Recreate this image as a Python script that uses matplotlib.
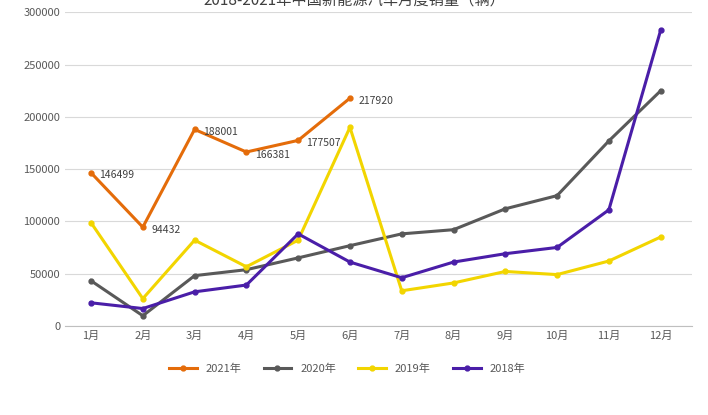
import matplotlib
matplotlib.use("Agg")
import matplotlib.pyplot as plt

plt.rcParams["font.family"] = ["Noto Sans CJK SC"]
months = [f"{i}月" for i in range(1, 13)]
s2021 = [146499, 94432, 188001, 166381, 177507, 217920]
s2020 = [43100, 9600, 48000, 53700, 65000, 76700, 88000, 92000, 112000, 124600, 177000, 225000]
s2019 = [98700, 26000, 82000, 56500, 82000, 190000, 33500, 41000, 52000, 49000, 62000, 85000]
s2018 = [22000, 16500, 32500, 39000, 88000, 61000, 46000, 61000, 69000, 75000, 111000, 283000]

fig = plt.figure(figsize=(7.08, 4.15), dpi=100)
ax = fig.add_axes([0.092, 0.215, 0.885, 0.755])
x = list(range(12))
series = [("2021年", s2021, "#E46C0A"), ("2020年", s2020, "#595959"),
          ("2019年", s2019, "#F2D500"), ("2018年", s2018, "#4A1EA8")]
for name, vals, c in series:
    ax.plot(x[:len(vals)], vals, color=c, lw=2.2, marker="o", ms=3.5, label=name)
for i, v in enumerate(s2021):
    ax.annotate(str(v), (i, v), xytext=(6, -4), textcoords="offset points", fontsize=7.5, color="#404040")
ax.set_ylim(0, 300000)
ax.set_xlim(-0.5, 11.6)
ax.set_yticks(range(0, 300001, 50000))
ax.set_xticks(x)
ax.set_xticklabels(months)
ax.tick_params(labelsize=8, colors="#595959", length=0)
ax.grid(axis="y", color="#D9D9D9", lw=0.8)
ax.set_axisbelow(True)
for s in ["top", "right", "left"]:
    ax.spines[s].set_visible(False)
ax.spines["bottom"].set_color("#BFBFBF")
ax.legend(loc="upper center", bbox_to_anchor=(0.45, -0.09), ncol=4, frameon=False, fontsize=8,
          handlelength=2.5, labelcolor="#595959")
fig.text(0.5, 1.0, "2018-2021年中国新能源汽车月度销量（辆）", ha="center", va="center", fontsize=11, color="#404040")
fig.savefig("out.png")
